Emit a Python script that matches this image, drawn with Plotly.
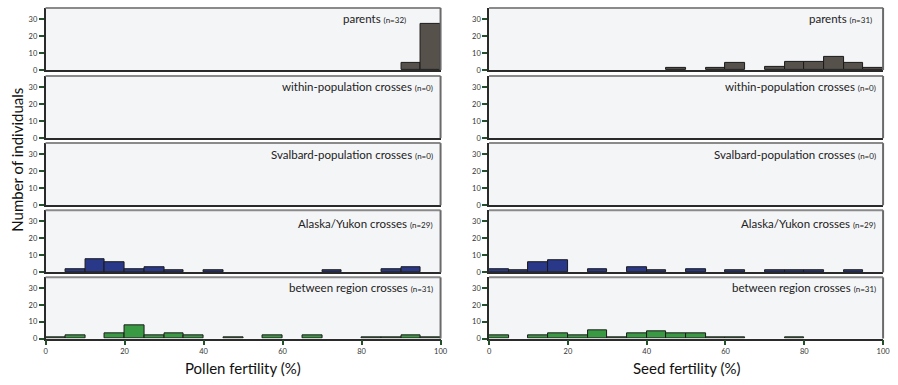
import plotly.graph_objects as go
from plotly.subplots import make_subplots

# ---- data (counts per 5 % bin, 0-5 ... 95-100) ----
bin_left = [0, 5, 10, 15, 20, 25, 30, 35, 40, 45, 50, 55, 60, 65, 70, 75, 80, 85, 90, 95]

row_labels = ["parents", "within-population crosses", "Svalbard-population crosses",
              "Alaska/Yukon crosses", "between region crosses"]

pollen_parents = [0, 0, 0, 0, 0, 0, 0, 0, 0, 0, 0, 0, 0, 0, 0, 0, 0, 0, 4, 27]
pollen_within = [0] * 20
pollen_svalbard = [0] * 20
pollen_alaska = [0, 2, 8, 6, 2, 3, 1, 0, 1, 0, 0, 0, 0, 0, 1, 0, 0, 2, 3, 0]
pollen_between = [1, 2, 0, 3, 8, 2, 3, 2, 0, 1, 0, 2, 0, 2, 0, 0, 1, 1, 2, 1]

seed_parents = [0, 0, 0, 0, 0, 0, 0, 0, 0, 1, 0, 1, 4, 0, 2, 5, 5, 8, 4, 1]
seed_within = [0] * 20
seed_svalbard = [0] * 20
seed_alaska = [2, 1, 6, 7, 0, 2, 0, 3, 1, 0, 2, 0, 1, 0, 1, 1, 1, 0, 1, 0]
seed_between = [2, 0, 2, 3, 2, 5, 1, 3, 4, 3, 3, 1, 1, 0, 0, 1, 0, 0, 0, 0]

pollen_n = [32, 0, 0, 29, 31]
seed_n = [31, 0, 0, 29, 31]

x_ticks = [0, 20, 40, 60, 80, 100]
y_ticks = [0, 10, 20, 30]

# ---- styles ----
row_colors = ["#57514c", "#57514c", "#57514c", "#2a3889", "#3a9a43"]
W, H = 898, 385
col_px = [(44, 443), (492, 890)]
row_px = [(8, 71), (77, 140), (145, 208), (213, 276), (281, 343)]
label_x = [[0.917, 0.985, 0.985, 0.985, 0.985],
           [0.977, 0.987, 0.987, 0.987, 0.987]]
label_y = [0.96, 0.96, 0.96, 0.93, 0.97]
FONT = "Lato, 'Open Sans', sans-serif"
TICKC = "#24502c"

fig = make_subplots(rows=5, cols=2)

cols = [
    (pollen_parents, pollen_within, pollen_svalbard, pollen_alaska, pollen_between),
    (seed_parents, seed_within, seed_svalbard, seed_alaska, seed_between),
]
ns = [pollen_n, seed_n]

for c, series in enumerate(cols):
    for r, counts in enumerate(series):
        xs = [b + 2.5 for b, v in zip(bin_left, counts) if v > 0]
        ys = [v for v in counts if v > 0]
        fig.add_trace(go.Bar(x=xs, y=ys, width=5,
                             marker=dict(color=row_colors[r],
                                         line=dict(color="#1a1a1a", width=1)),
                             showlegend=False, hoverinfo="skip"),
                      row=r + 1, col=c + 1)

for r in range(5):
    for c in range(2):
        idx = r * 2 + c + 1
        xa = "xaxis" if idx == 1 else f"xaxis{idx}"
        ya = "yaxis" if idx == 1 else f"yaxis{idx}"
        x0, x1 = col_px[c]
        y0, y1 = row_px[r]
        last = r == 4
        fig.layout[xa].update(
            domain=[x0 / W, x1 / W], range=[0, 100],
            showgrid=False, zeroline=False,
            showline=True, linecolor="#2a2a2a", linewidth=1.5,
            tickvals=x_ticks, ticks="outside" if last else "",
            ticklen=5, tickcolor=TICKC, tickwidth=1.5,
            showticklabels=last,
            tickfont=dict(family=FONT, size=7.5, color="#333333"),
        )
        fig.layout[ya].update(
            domain=[1 - y1 / H, 1 - y0 / H], range=[0, 36.5],
            showgrid=False, zeroline=False,
            showline=True, linecolor="#2a2a2a", linewidth=1.5,
            tickvals=y_ticks, ticks="outside", ticklen=5,
            tickcolor=TICKC, tickwidth=1.5,
            tickfont=dict(family=FONT, size=7.5, color="#333333"),
        )
        xr = "x" if idx == 1 else f"x{idx}"
        yr = "y" if idx == 1 else f"y{idx}"
        # top/right frame
        fig.add_shape(type="line", xref=f"{xr} domain", yref=f"{yr} domain",
                      x0=0, x1=1, y0=1, y1=1, line=dict(color="#8a8a8a", width=2))
        fig.add_shape(type="line", xref=f"{xr} domain", yref=f"{yr} domain",
                      x0=1, x1=1, y0=0, y1=1, line=dict(color="#6a6a6a", width=2))
        n = ns[c][r]
        fig.add_annotation(
            xref=f"{xr} domain", yref=f"{yr} domain",
            x=label_x[c][r], y=label_y[r], xanchor="right", yanchor="top", showarrow=False,
            text=f"{row_labels[r]} <span style='font-size:8px'>(n={n})</span>",
            font=dict(family=FONT, size=11.5, color="#222222"),
        )

fig.add_annotation(xref="paper", yref="paper", x=243 / W, y=1 - 373 / H,
                   text="Pollen fertility (%)", showarrow=False,
                   xanchor="center", yanchor="middle",
                   font=dict(family=FONT, size=15, color="#111111"))
fig.add_annotation(xref="paper", yref="paper", x=692 / W, y=1 - 373 / H,
                   text="Seed fertility (%)", showarrow=False,
                   xanchor="center", yanchor="middle",
                   font=dict(family=FONT, size=15, color="#111111"))
fig.add_annotation(xref="paper", yref="paper", x=15 / W, y=1 - 162 / H,
                   text="Number of individuals", showarrow=False, textangle=-90,
                   xanchor="center", yanchor="middle",
                   font=dict(family=FONT, size=15, color="#111111"))

fig.update_layout(
    width=W, height=H, margin=dict(l=0, r=0, t=0, b=0),
    paper_bgcolor="white", plot_bgcolor="#f4f5f7",
    bargap=0, barmode="overlay",
)

fig.write_html("out.html")
